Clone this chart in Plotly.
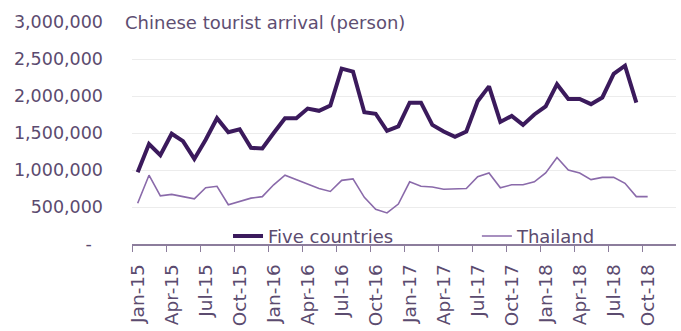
import plotly.graph_objects as go

# Monthly categories Jan-15 .. Dec-18 (axis spans the full 2018 year)
month_names = ["Jan", "Feb", "Mar", "Apr", "May", "Jun",
               "Jul", "Aug", "Sep", "Oct", "Nov", "Dec"]
years = ["15", "16", "17", "18"]
months = [f"{m}-{y}" for y in years for m in month_names]

# Chinese tourist arrivals (persons)
five_countries = [
    970000, 1350000, 1200000, 1490000, 1390000, 1150000, 1410000, 1700000, 1510000, 1550000, 1300000, 1290000,
    1500000, 1700000, 1700000, 1830000, 1800000, 1870000, 2370000, 2330000, 1780000, 1760000, 1530000, 1590000,
    1910000, 1910000, 1610000, 1520000, 1450000, 1520000, 1930000, 2130000, 1650000, 1730000, 1610000, 1750000,
    1860000, 2160000, 1960000, 1960000, 1890000, 1980000, 2300000, 2410000, 1910000,
]
thailand = [
    550000, 930000, 650000, 670000, 640000, 610000, 760000, 780000, 530000, 580000, 620000, 640000,
    800000, 930000, 870000, 810000, 750000, 710000, 860000, 880000, 630000, 470000, 420000, 540000,
    840000, 780000, 770000, 740000, 750000, 750000, 910000, 960000, 760000, 800000, 800000, 840000,
    960000, 1170000, 1000000, 960000, 870000, 900000, 900000, 820000, 640000, 640000,
]

y_ticks = [0, 500000, 1000000, 1500000, 2000000, 2500000, 3000000]
y_tick_text = ["-\u00a0\u00a0", "500,000", "1,000,000", "1,500,000", "2,000,000", "2,500,000", "3,000,000"]

label_idx = list(range(0, len(months), 3))
label_text = [months[i] for i in label_idx]
boundary_ticks = [i - 0.5 for i in label_idx]

FONT = "DejaVu Sans"
TEXT_COLOR = "#5b4b6f"

legend_style = dict(
    orientation="h", y=0.035, xanchor="left", yanchor="middle",
    bgcolor="rgba(0,0,0,0)", font=dict(size=18, color=TEXT_COLOR), itemwidth=30,
)

fig = go.Figure()
fig.add_trace(go.Scatter(
    x=list(range(len(five_countries))), y=five_countries,
    mode="lines", name="Five countries", legend="legend",
    line=dict(color="#3b1a5c", width=4),
))
fig.add_trace(go.Scatter(
    x=list(range(len(thailand))), y=thailand,
    mode="lines", name="Thailand", legend="legend2",
    line=dict(color="#8a6aaa", width=1.6),
))

fig.update_layout(
    width=681, height=331,
    margin=dict(l=132, r=5, t=22, b=81),
    paper_bgcolor="white", plot_bgcolor="white",
    font=dict(family=FONT, color=TEXT_COLOR),
    showlegend=True,
    legend=dict(x=0.1765, **legend_style),
    legend2=dict(x=0.634, **legend_style),
    xaxis=dict(
        range=[-0.5, len(months) - 0.5],
        tickmode="array", tickvals=label_idx, ticktext=label_text,
        tickangle=-90, ticks="", ticklabelstandoff=11,
        tickfont=dict(size=18.5, color=TEXT_COLOR),
        showgrid=False, zeroline=False,
        showline=True, linecolor="#8c7d9c", linewidth=1.5,
        minor=dict(tickmode="array", tickvals=boundary_ticks, ticks="outside",
                   ticklen=6, tickcolor="#8c7d9c", tickwidth=1.2, showgrid=False),
    ),
    yaxis=dict(
        range=[0, 3000000],
        tickmode="array", tickvals=y_ticks, ticktext=y_tick_text,
        ticks="", ticklabelstandoff=28,
        tickfont=dict(size=17.5, color=TEXT_COLOR),
        showgrid=True, gridcolor="#ececec", gridwidth=1,
        zeroline=False, showline=False,
    ),
    annotations=[dict(
        text="Chinese tourist arrival (person)",
        xref="paper", yref="paper", x=-0.018, y=1.0,
        xanchor="left", yanchor="middle", showarrow=False,
        font=dict(size=18, color="#5e4e72", family=FONT),
        bgcolor="white", borderpad=2,
    )],
)

fig.write_html("out.html")
